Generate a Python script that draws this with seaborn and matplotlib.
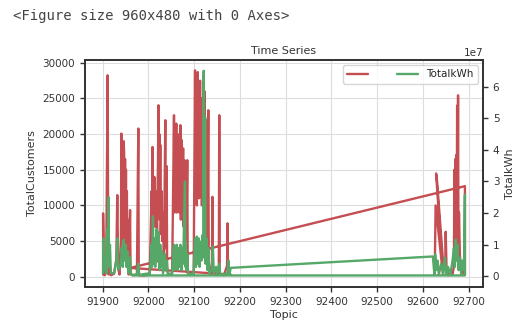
import matplotlib
matplotlib.use("Agg")
import matplotlib.pyplot as plt
import seaborn as sns
import pandas as pd

# ---- data: red series (TotalCustomers), drawn in record order ----
topic_customers = [
    91901, 91901, 91903, 91905, 91908, 91911, 91912, 91913, 91916, 91918,
    91925, 91930, 91932, 91934, 91937, 91940, 91941, 91942, 91944, 91945,
    91946, 91947, 91948, 91949, 91950, 91951, 91952, 91953, 91954, 91955,
    91957, 91960, 91961, 91966, 91975, 91978, 91979, 91990,
    92003, 92007, 92008, 92009, 92011, 92013, 92015, 92017, 92019, 92021,
    92022, 92023, 92024, 92025, 92026, 92027, 92029, 92030, 92032, 92034,
    92037, 92038, 92040, 92041, 92045,
    92052, 92054, 92056, 92057, 92058, 92059, 92061, 92062, 92063, 92065,
    92067, 92068, 92070, 92071, 92073, 92074, 92076, 92077, 92079, 92080,
    92082, 92083, 92085, 92086, 92090,
    92099, 92101, 92102, 92103, 92105, 92106, 92108, 92109, 92110, 92111,
    92113, 92114, 92116, 92117, 92119, 92120, 92121, 92122, 92123, 92124,
    92126, 92127, 92128, 92129, 92131, 92132, 92135, 92139, 92140, 92141,
    92145, 92154, 92155, 92156, 92165, 92172, 92173, 92174, 92176, 92180,
    91960, 92692, 92692, 92690, 92686, 92681, 92679, 92678, 92677, 92676,
    92675, 92674, 92673, 92672, 92671, 92670, 92669, 92668, 92665, 92661,
    92656, 92652, 92650, 92649, 92645, 92631, 92629, 92644, 92628, 92626,
    92625,
]
total_customers = [
    300, 8880, 500, 200, 3000, 28250, 6000, 300, 1500, 200,
    400, 2500, 11440, 1200, 300, 5000, 20080, 6000, 17500, 5000,
    19000, 17280, 5000, 16500, 6000, 15000, 3000, 12000, 1500, 8000,
    300, 9340, 400, 200, 300, 20780, 200, 150,
    300, 12000, 5000, 18200, 8000, 14000, 7000, 12000, 6000, 16000,
    24050, 9000, 20000, 8000, 18500, 6000, 12000, 5000, 9000, 2000,
    21950, 4000, 15500, 800, 300,
    500, 12000, 22650, 9000, 19000, 10000, 21480, 9000, 18500, 11000,
    20000, 9000, 21250, 8000, 19150, 10000, 18000, 7000, 16340, 8000,
    14000, 5000, 16340, 500, 300,
    400, 20000, 28950, 12000, 27500, 10000, 28700, 14000, 26000, 11000,
    27500, 13000, 25000, 10000, 24000, 12000, 28000, 10000, 26000, 8000,
    22000, 6000, 18000, 5000, 23350, 1000, 400, 2000, 11200, 500,
    300, 1000, 22650, 400, 200, 1500, 7480, 1500, 400, 300,
    1220, 12700, 300, 2000, 300, 3000, 9000, 2000, 25450, 8000,
    24000, 6000, 17050, 5000, 16500, 6000, 15000, 1500, 300, 1000,
    200, 600, 6300, 1000, 1400, 13500, 14480, 300, 10000, 500,
    300,
]

# ---- data: green series (TotalkWh, in units of 1e7), drawn in record order ----
topic_kwh = [
    91901, 91902, 91904, 91906, 91908, 91910, 91911, 91913, 91914, 91916,
    91918, 91925, 91930, 91932, 91934, 91940, 91942, 91944, 91946, 91948,
    91950, 91952, 91954, 91956, 91960, 91962, 91975, 91978, 91980, 92003,
    92007, 92008, 92010, 92011, 92013, 92015, 92018, 92020, 92022, 92024,
    92026, 92028, 92030, 92032, 92036, 92038, 92040, 92043, 92052, 92054,
    92056, 92057, 92059, 92060, 92062, 92064, 92066, 92068, 92070, 92072,
    92074, 92076, 92080, 92081, 92082, 92083, 92085, 92087, 92099, 92101,
    92102, 92104, 92106, 92108, 92110, 92112, 92114, 92116, 92118, 92120,
    92121, 92122, 92124, 92125, 92127, 92129, 92131, 92133, 92139, 92141,
    92143, 92148, 92150, 92155, 92157, 92173, 92175, 92177, 92180,
    92622, 92625, 92627, 92630, 92632, 92635, 92640, 92645, 92648, 92652,
    92655, 92660, 92665, 92668, 92670, 92672, 92674, 92676, 92678, 92680,
    92684, 92686, 92690, 92692, 92692, 91965,
]
total_kwh_1e7 = [
    0.1, 1.2, 0.2, 0.6, 0.1, 1.5, 0.5, 2.5, 0.3, 1.0,
    0.1, 0.1, 0.5, 1.2, 0.2, 0.4, 0.9, 0.3, 1.16, 0.5,
    1.0, 0.3, 0.8, 0.1, 0.6, 0.05, 0.05, 0.4, 0.05, 0.1,
    1.0, 0.3, 1.9, 0.4, 1.2, 0.3, 1.5, 0.5, 1.4, 0.2,
    1.0, 0.3, 0.8, 0.1, 0.7, 0.2, 0.5, 0.05, 0.1, 0.6,
    1.0, 0.2, 0.95, 0.3, 1.0, 0.2, 0.9, 0.3, 1.0, 0.2,
    0.9, 0.4, 3.0, 0.3, 1.0, 0.2, 0.7, 0.05, 0.1, 0.8,
    1.2, 0.3, 1.26, 0.4, 1.2, 0.3, 1.1, 0.5, 1.3, 0.6,
    6.5, 0.8, 5.05, 0.4, 1.2, 0.2, 0.9, 0.1, 0.2, 0.95,
    0.1, 0.3, 0.1, 0.4, 0.05, 0.1, 0.5, 0.05, 0.27,
    0.63, 0.1, 0.7, 0.2, 0.5, 0.05, 0.4, 0.1, 0.6, 0.05,
    0.3, 0.05, 0.5, 0.9, 0.3, 1.16, 0.5, 1.0, 0.2, 0.6,
    0.05, 0.5, 0.2, 2.58, 0.03, 0.03,
]

x_ticks = [91900, 92000, 92100, 92200, 92300, 92400, 92500, 92600, 92700]
left_ticks = [0, 5000, 10000, 15000, 20000, 25000, 30000]
right_ticks_1e7 = [0, 1, 2, 3, 4, 5, 6]

df_red = pd.DataFrame({"Topic": topic_customers, "TotalCustomers": total_customers})
df_green = pd.DataFrame({"Topic": topic_kwh,
                         "TotalkWh": [v * 1e7 for v in total_kwh_1e7]})

sns.set_style("ticks")
plt.rcParams["font.family"] = ["DejaVu Sans"]

RED = "#c44e52"
GREEN = "#55a868"
DARK = "#333333"

fig = plt.figure(figsize=(5.2, 3.24), dpi=100)
fig.text(13 / 520, 1 - 16 / 324, "<Figure size 960x480 with 0 Axes>",
         family="DejaVu Sans Mono", fontsize=10, color="#444444",
         ha="left", va="center")

ax = fig.add_axes([85 / 520, 37 / 324, 398 / 520, 227 / 324])
sns.lineplot(data=df_red, x="Topic", y="TotalCustomers", sort=False,
             estimator=None, color=RED, linewidth=1.7, ax=ax)
ax2 = ax.twinx()
sns.lineplot(data=df_green, x="Topic", y="TotalkWh", sort=False,
             estimator=None, color=GREEN, linewidth=1.7, ax=ax2)

ax.set_xticks(x_ticks)
ax.set_yticks(left_ticks)
ax2.set_yticks([t * 1e7 for t in right_ticks_1e7])
ax.set_ylim(-1450, 30400)
ax2.set_ylim(-0.335e7, 6.84e7)

ax.grid(True, color="#dddddd", linewidth=0.8)
ax2.grid(False)

for a in (ax, ax2):
    for sp in a.spines.values():
        sp.set_color(DARK)
        sp.set_linewidth(1.25)
    a.tick_params(labelsize=7.5, colors=DARK, length=3.5, width=1)
ax2.yaxis.get_offset_text().set_fontsize(7.5)
ax2.yaxis.get_offset_text().set_color(DARK)

ax.set_title("Time Series", fontsize=8, color=DARK, pad=4)
ax.set_xlabel("Topic", fontsize=8, color=DARK, labelpad=2)
ax.set_ylabel("TotalCustomers", fontsize=8, color=DARK)
ax2.set_ylabel("TotalkWh", fontsize=8, color=DARK)

ax2.legend([ax.lines[0], ax2.lines[0]], ["", "TotalkWh"], ncol=2,
           loc="upper right", fontsize=7.5, frameon=True)

fig.savefig("out.png", dpi=100)
